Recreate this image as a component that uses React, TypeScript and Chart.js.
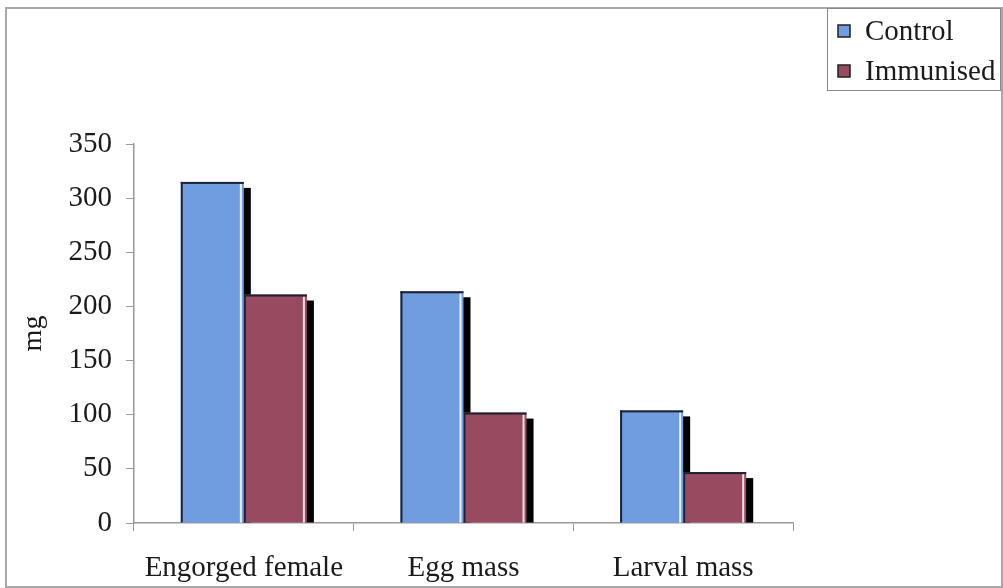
import { useEffect, useRef } from "react";
import { Chart, registerables } from "chart.js";

Chart.register(...registerables);

const categories = ["Engorged female", "Egg mass", "Larval mass"];
const seriesNames = ["Control", "Immunised"];
const controlValues = [315, 214, 104];
const immunisedValues = [211, 102, 47];
const yTickValues = [0, 50, 100, 150, 200, 250, 300, 350];
const yAxisTitle = "mg";

const FONT = "'Liberation Serif', 'Times New Roman', serif";
const BLUE = "#6f9de0";
const MAROON = "#984a60";

const shadowPlugin = {
  id: "barShadow",
  beforeDatasetsDraw(chart: any) {
    const ctx = chart.ctx;
    ctx.save();
    ctx.fillStyle = "#000";
    chart.data.datasets.forEach((_: any, i: number) => {
      const meta = chart.getDatasetMeta(i);
      meta.data.forEach((bar: any) => {
        const right = bar.x + bar.width / 2;
        ctx.fillRect(right - 1, bar.y + 6, 8, bar.base - bar.y - 6);
      });
    });
    ctx.restore();
  },
  afterDatasetDraw(chart: any, args: any) {
    const meta = chart.getDatasetMeta(args.index);
    const ctx = chart.ctx;
    ctx.save();
    meta.data.forEach((bar: any) => {
      const left = bar.x - bar.width / 2;
      const right = bar.x + bar.width / 2;
      ctx.fillStyle = "rgba(255,255,255,0.85)";
      ctx.fillRect(right - 4, bar.y + 2, 2, bar.base - bar.y - 2);
      ctx.fillStyle = "#1c2230";
      ctx.fillRect(left, bar.y, 2, bar.base - bar.y);
      ctx.fillRect(left, bar.y, right - left, 2);
    });
    ctx.restore();
  },
};

const framePlugin = {
  id: "frameAndLegend",
  afterDraw(chart: any) {
    const ctx = chart.ctx;
    ctx.save();
    ctx.strokeStyle = "#a8a8a8";
    ctx.lineWidth = 2;
    ctx.strokeRect(6, 8, 996, 579);
    ctx.strokeStyle = "#8a8a8a";
    ctx.lineWidth = 1;
    ctx.fillStyle = "#fff";
    ctx.fillRect(827.5, 8.5, 173, 82);
    ctx.strokeRect(827.5, 8.5, 173, 82);
    const rows = [31, 71];
    chart.data.datasets.forEach((ds: any, i: number) => {
      const cy = rows[i];
      ctx.fillStyle = ds.backgroundColor;
      ctx.fillRect(838, cy - 6, 12, 12);
      ctx.strokeStyle = "#202020";
      ctx.lineWidth = 1.5;
      ctx.strokeRect(838, cy - 6, 12, 12);
      ctx.fillStyle = "#1a1a1a";
      ctx.font = `29px ${FONT}`;
      ctx.textBaseline = "middle";
      ctx.textAlign = "left";
      ctx.fillText(ds.label, 865, cy + 1);
    });
    ctx.restore();
  },
};

function App() {
  const canvasRef = useRef<HTMLCanvasElement | null>(null);

  useEffect(() => {
    if (!canvasRef.current) return;
    const chart = new Chart(canvasRef.current, {
      type: "bar",
      data: {
        labels: categories,
        datasets: [
          {
            label: seriesNames[0],
            data: controlValues,
            backgroundColor: BLUE,
            borderWidth: 0,
            categoryPercentage: 0.574,
            barPercentage: 1.0,
          },
          {
            label: seriesNames[1],
            data: immunisedValues,
            backgroundColor: MAROON,
            borderWidth: 0,
            categoryPercentage: 0.574,
            barPercentage: 1.0,
          },
        ],
      },
      options: {
        responsive: false,
        animation: false,
        devicePixelRatio: 1,
        layout: { padding: { left: 0, top: 144, right: 210, bottom: 0 } },
        plugins: {
          legend: { display: false },
          tooltip: { enabled: false },
        },
        scales: {
          x: {
            grid: {
              display: true,
              drawOnChartArea: false,
              drawTicks: true,
              tickLength: 8,
              color: "#9a9a9a",
              offset: true,
            },
            border: { display: true, color: "#9a9a9a", width: 1.5 },
            ticks: {
              color: "#1a1a1a",
              font: { family: FONT, size: 29 },
              padding: 20,
              maxRotation: 0,
            },
            afterFit: (scale: any) => {
              scale.height = 65;
            },
          },
          y: {
            min: 0,
            max: 350,
            afterBuildTicks: (scale: any) => {
              scale.ticks = yTickValues.map((v) => ({ value: v }));
            },
            grid: {
              display: true,
              drawOnChartArea: false,
              drawTicks: true,
              tickLength: 8,
              color: "#9a9a9a",
            },
            border: { display: true, color: "#9a9a9a", width: 1.5 },
            ticks: {
              color: "#1a1a1a",
              font: { family: FONT, size: 29 },
              padding: 14,
            },
            title: {
              display: true,
              text: yAxisTitle,
              color: "#1a1a1a",
              font: { family: FONT, size: 28 },
              padding: { top: 17, bottom: 0 },
            },
            afterFit: (scale: any) => {
              scale.width = 134;
            },
          },
        },
      },
      plugins: [shadowPlugin, framePlugin],
    });
    return () => chart.destroy();
  }, []);

  return (
    <div style={{ position: "fixed", left: 0, top: 0, width: 1003, height: 588, background: "#fff" }}>
      <canvas ref={canvasRef} width={1003} height={588} style={{ width: 1003, height: 588 }} />
    </div>
  );
}

export default App;
